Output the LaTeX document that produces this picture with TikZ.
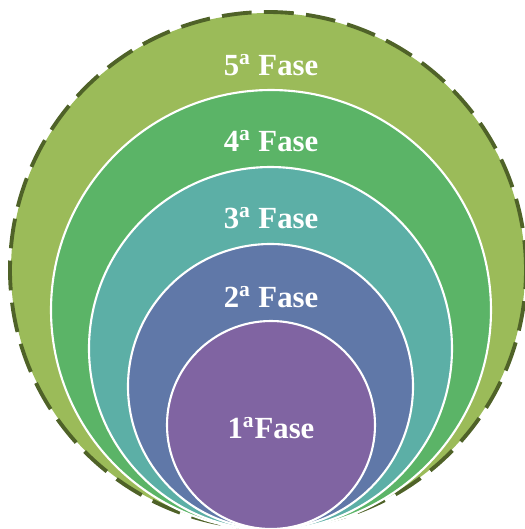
\documentclass[tikz,border=0pt]{standalone}
\usepackage{fontspec}
\setmainfont{Liberation Serif}
\usepackage{tikz}
\definecolor{fhoutline}{HTML}{4F6228}
\definecolor{fhfive}{HTML}{9BBB59}
\definecolor{fhfour}{HTML}{5BB467}
\definecolor{fhthree}{HTML}{5CAFA6}
\definecolor{fhtwo}{HTML}{6078A8}
\definecolor{fhone}{HTML}{8064A2}

\begin{document}
\begin{tikzpicture}[x=0.02cm,y=0.02cm,
    ring/.style={draw=white,line width=1.2pt},
    phase/.style={text=white,font=\fontsize{17.5}{20}\selectfont\bfseries,inner sep=0pt}]
  \useasboundingbox (0,0) rectangle (525,-529);
  % outer ring, dashed border
  \fill[fhfive] (268,-270) circle (257);
  \draw[fhoutline,line width=2.2pt,dash pattern=on 17pt off 7pt] (268,-270) circle (258);
  % inner rings, all touching at the bottom
  \filldraw[ring,fill=fhfour]  (271,-310)   circle (220);
  \filldraw[ring,fill=fhthree] (270.5,-348.5) circle (181.5);
  \filldraw[ring,fill=fhtwo]   (270.5,-386.5) circle (142.5);
  \filldraw[ring,fill=fhone]   (271,-425)   circle (104);
  % labels
  \node[phase] (five)  at (271,-65)  {5\textsuperscript{a} Fase};
  \node[phase] (four)  at (271,-141) {4\textsuperscript{a} Fase};
  \node[phase] (three) at (271,-218) {3\textsuperscript{a} Fase};
  \node[phase] (two)   at (271,-297) {2\textsuperscript{a} Fase};
  \node[phase] (one)   at (271,-428) {1\textsuperscript{a}Fase};
\end{tikzpicture}
\end{document}
